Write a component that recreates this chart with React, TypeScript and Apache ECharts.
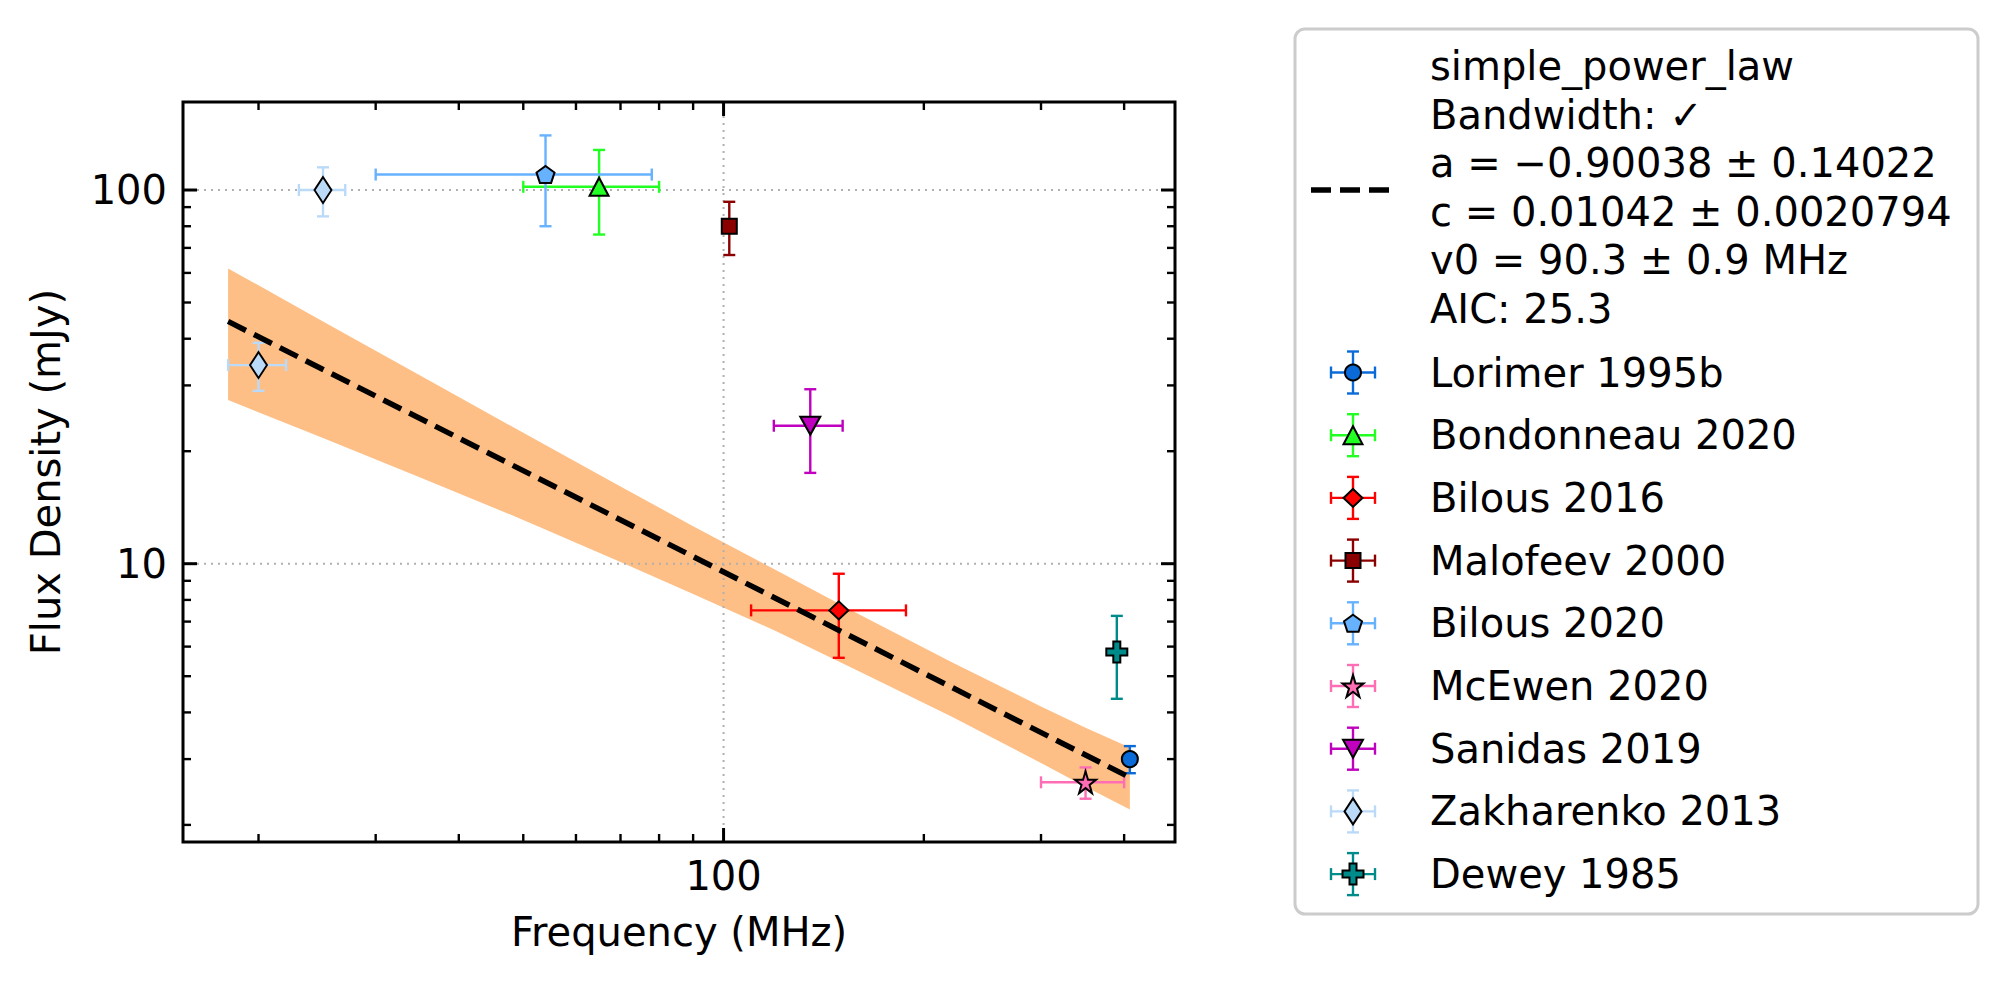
import React, { useEffect, useRef } from "react";
import * as echarts from "echarts";

const FONT = "DejaVu Sans";

// ---- axes ----
const xAxisMin = 15.4;
const xAxisMax = 477;
const yAxisMin = 1.8;
const yAxisMax = 172;
const xMajorTicks = [100];
const xMinorTicks = [20, 30, 40, 50, 60, 70, 80, 90, 200, 300, 400];
const yMajorTicks = [10, 100];
const yMinorTicks = [2, 3, 4, 5, 6, 7, 8, 9, 20, 30, 40, 50, 60, 70, 80, 90];
const xTickLabels = ["100"];
const yTickLabels = ["10", "100"];

// ---- fit (simple power law) ----
const fitFreq = [18, 408];
const fitFlux = [44.5, 2.68];
const bandFreq = [18, 25, 35, 50, 70, 90, 120, 160, 220, 300, 350, 408];
const bandUpper = [61.7, 44.5, 31.9, 22.4, 16.1, 12.6, 9.6, 7.31, 5.46, 4.15, 3.64, 3.22];
const bandLower = [27.4, 21.7, 17.0, 13.1, 10.1, 8.3, 6.6, 5.15, 3.9, 2.93, 2.53, 2.2];
const fitLegendLines = [
  "simple_power_law",
  "Bandwidth: \u2713",
  "a = \u22120.90038 \u00b1 0.14022",
  "c = 0.01042 \u00b1 0.0020794",
  "v0 = 90.3 \u00b1 0.9 MHz",
  "AIC: 25.3",
];

// ---- measurements: [frequency (MHz), flux (mJy), freq error, flux error] ----
const lorimer1995b = [[408, 3.0, 0, 0.25]];
const bondonneau2020 = [[65, 102, 15, 26]];
const bilous2016 = [[149, 7.5, 39, 1.9]];
const malofeev2000 = [[102, 80, 0, 13]];
const bilous2020 = [[54, 110, 24, 30]];
const mcewen2020 = [[350, 2.6, 50, 0.25]];
const sanidas2019 = [[135, 23.4, 16, 5.9]];
const zakharenko2013 = [[20, 34, 2, 5], [25, 100, 2, 15]];
const dewey1985 = [[390, 5.8, 0, 1.45]];

const seriesNames = [
  "Lorimer 1995b",
  "Bondonneau 2020",
  "Bilous 2016",
  "Malofeev 2000",
  "Bilous 2020",
  "McEwen 2020",
  "Sanidas 2019",
  "Zakharenko 2013",
  "Dewey 1985",
];
const seriesData = [
  lorimer1995b,
  bondonneau2020,
  bilous2016,
  malofeev2000,
  bilous2020,
  mcewen2020,
  sanidas2019,
  zakharenko2013,
  dewey1985,
];

// ---- styling ----
const MARKERS: Record<string, number[][]> = {
  triangleUp: [[0, -1], [1, 1], [-1, 1]],
  triangleDown: [[0, 1], [1, -1], [-1, -1]],
  diamond: [[0, -1], [1, 0], [0, 1], [-1, 0]],
  square: [[-1, -1], [1, -1], [1, 1], [-1, 1]],
  pentagon: [[0, -1], [0.951, -0.309], [0.588, 0.809], [-0.588, 0.809], [-0.951, -0.309]],
  star: [
    [0, -1], [0.2245, -0.309], [0.951, -0.309], [0.3633, 0.118], [0.588, 0.809],
    [0, 0.382], [-0.588, 0.809], [-0.3633, 0.118], [-0.951, -0.309], [-0.2245, -0.309],
  ],
  plus: [
    [1, 0], [2, 0], [2, 1], [3, 1], [3, 2], [2, 2], [2, 3], [1, 3], [1, 2], [0, 2], [0, 1], [1, 1],
  ],
};

const seriesStyles = [
  { color: "#0a6ad8", marker: "circle", size: [16, 16] },
  { color: "#22ff22", marker: "triangleUp", size: [19, 18] },
  { color: "#ff0000", marker: "diamond", size: [19, 18] },
  { color: "#8b0000", marker: "square", size: [15, 15] },
  { color: "#66b2ff", marker: "pentagon", size: [18, 17] },
  { color: "#ff6eb4", marker: "star", size: [21, 22] },
  { color: "#bf00bf", marker: "triangleDown", size: [20, 18] },
  { color: "#bbdaf8", marker: "diamond", size: [17, 26] },
  { color: "#008b8b", marker: "plus", size: [21, 21] },
];

const ERR_LW = 2.4;
const CAP = 6;

function bbox(pts: number[][]) {
  let x0 = Infinity, x1 = -Infinity, y0 = Infinity, y1 = -Infinity;
  pts.forEach(([x, y]) => {
    x0 = Math.min(x0, x); x1 = Math.max(x1, x);
    y0 = Math.min(y0, y); y1 = Math.max(y1, y);
  });
  return { x0, x1, y0, y1 };
}

function symbolFor(marker: string) {
  if (marker === "circle") return "circle";
  const pts = MARKERS[marker];
  return "path://" + pts.map((p, i) => (i ? "L" : "M") + p[0] + "," + p[1]).join("") + "Z";
}

function markerGraphic(st: any, cx: number, cy: number) {
  const [w, h] = st.size;
  const style = { fill: st.color, stroke: "#000", lineWidth: 2 };
  if (st.marker === "circle") {
    return { type: "circle", shape: { cx, cy, r: w / 2 }, style, z: 103 };
  }
  const pts = MARKERS[st.marker];
  const b = bbox(pts);
  const mx = (b.x0 + b.x1) / 2, my = (b.y0 + b.y1) / 2;
  const points = pts.map(([x, y]) => [
    cx + ((x - mx) / (b.x1 - b.x0)) * w,
    cy + ((y - my) / (b.y1 - b.y0)) * h,
  ]);
  return { type: "polygon", shape: { points }, style, z: 103 };
}

function errorBarSeries(rows: number[][], color: string, name: string) {
  return {
    type: "custom",
    name: name + " err",
    z: 3,
    silent: true,
    clip: false,
    data: rows,
    encode: { x: 0, y: 1 },
    renderItem: (params: any, api: any) => {
      const f = api.value(0), s = api.value(1), fe = api.value(2), se = api.value(3);
      const st = { stroke: color, lineWidth: ERR_LW };
      const children: any[] = [];
      const ln = (x1: number, y1: number, x2: number, y2: number) =>
        children.push({ type: "line", shape: { x1, y1, x2, y2 }, style: st });
      if (fe > 0) {
        const a = api.coord([f - fe, s]);
        const b = api.coord([f + fe, s]);
        ln(a[0], a[1], b[0], b[1]);
        ln(a[0], a[1] - CAP, a[0], a[1] + CAP);
        ln(b[0], b[1] - CAP, b[0], b[1] + CAP);
      }
      if (se > 0) {
        const a = api.coord([f, s + se]);
        const b = api.coord([f, s - se]);
        ln(a[0], a[1], b[0], b[1]);
        ln(a[0] - CAP, a[1], a[0] + CAP, a[1]);
        ln(b[0] - CAP, b[1], b[0] + CAP, b[1]);
      }
      return { type: "group", children };
    },
  };
}

function labelFormatter(labels: string[]) {
  return (v: number) => {
    const hit = labels.find((l) => Math.abs(Number(l) - v) < 1e-6 * Number(l));
    return hit ? hit : "";
  };
}

function buildOption() {
  const series: any[] = [];

  // uncertainty band
  series.push({
    type: "custom",
    name: "band",
    z: 1,
    silent: true,
    clip: false,
    data: [[bandFreq[0], bandUpper[0]]],
    encode: { x: 0, y: 1 },
    renderItem: (params: any, api: any) => {
      const pts: number[][] = [];
      bandFreq.forEach((f, i) => pts.push(api.coord([f, bandUpper[i]])));
      for (let i = bandFreq.length - 1; i >= 0; i--) pts.push(api.coord([bandFreq[i], bandLower[i]]));
      return { type: "polygon", shape: { points: pts }, style: { fill: "#febf86", stroke: null } };
    },
  });

  // grid lines (major ticks)
  series.push({
    type: "custom",
    name: "gridlines",
    z: 2,
    silent: true,
    clip: false,
    data: [[100, 10]],
    encode: { x: 0, y: 1 },
    renderItem: (params: any, api: any) => {
      const cs = params.coordSys;
      const st = { stroke: "#b0b0b0", lineWidth: 2, lineDash: [2, 5] };
      const children: any[] = [];
      xMajorTicks.forEach((t) => {
        const px = api.coord([t, 10])[0];
        children.push({ type: "line", shape: { x1: px, y1: cs.y, x2: px, y2: cs.y + cs.height }, style: st });
      });
      yMajorTicks.forEach((t) => {
        const py = api.coord([100, t])[1];
        children.push({ type: "line", shape: { x1: cs.x, y1: py, x2: cs.x + cs.width, y2: py }, style: st });
      });
      return { type: "group", children };
    },
  });

  // error bars
  seriesData.forEach((rows, i) => series.push(errorBarSeries(rows, seriesStyles[i].color, seriesNames[i])));

  // fit line
  series.push({
    type: "line",
    name: "simple_power_law",
    z: 4,
    silent: true,
    showSymbol: false,
    symbol: "none",
    data: fitFreq.map((f, i) => [f, fitFlux[i]]),
    lineStyle: { color: "#000", width: 5.5, type: [20, 9] },
  });

  // markers
  seriesData.forEach((rows, i) => {
    const st = seriesStyles[i];
    series.push({
      type: "scatter",
      name: seriesNames[i],
      z: 5,
      silent: true,
      data: rows.map((r) => [r[0], r[1]]),
      symbol: symbolFor(st.marker),
      symbolSize: st.size,
      itemStyle: { color: st.color, borderColor: "#000", borderWidth: 2, opacity: 1 },
    });
  });

  // frame + ticks
  series.push({
    type: "custom",
    name: "frame",
    z: 10,
    silent: true,
    clip: false,
    data: [[100, 10]],
    encode: { x: 0, y: 1 },
    renderItem: (params: any, api: any) => {
      const cs = params.coordSys;
      const left = cs.x, right = cs.x + cs.width, top = cs.y, bottom = cs.y + cs.height;
      const children: any[] = [];
      const tk = (x1: number, y1: number, x2: number, y2: number, w: number) =>
        children.push({ type: "line", shape: { x1, y1, x2, y2 }, style: { stroke: "#000", lineWidth: w } });
      const xt = (t: number, len: number, w: number) => {
        const px = api.coord([t, 10])[0];
        tk(px, bottom, px, bottom - len, w);
        tk(px, top, px, top + len, w);
      };
      const yt = (t: number, len: number, w: number) => {
        const py = api.coord([100, t])[1];
        tk(left, py, left + len, py, w);
        tk(right, py, right - len, py, w);
      };
      xMajorTicks.forEach((t) => xt(t, 14, 3));
      xMinorTicks.forEach((t) => xt(t, 8, 2.4));
      yMajorTicks.forEach((t) => yt(t, 14, 3));
      yMinorTicks.forEach((t) => yt(t, 8, 2.4));
      children.push({
        type: "rect",
        shape: { x: left, y: top, width: cs.width, height: cs.height },
        style: { fill: "none", stroke: "#000", lineWidth: 3 },
      });
      return { type: "group", children };
    },
  });

  // ---- legend (graphic) ----
  const g: any[] = [];
  g.push({
    type: "rect",
    shape: { x: 1295, y: 29, width: 683, height: 885, r: 10 },
    style: { fill: "rgba(255,255,255,0.8)", stroke: "#cccccc", lineWidth: 3 },
    z: 100,
  });
  g.push({
    type: "line",
    shape: { x1: 1311, y1: 190, x2: 1393, y2: 190 },
    style: { stroke: "#000", lineWidth: 5.5, lineDash: [20, 9] },
    z: 101,
  });
  fitLegendLines.forEach((t, i) => {
    g.push({
      type: "text",
      x: 1430,
      y: 66 + 48.5 * i,
      style: { text: t, fontSize: 40, fontFamily: FONT, fill: "#000", verticalAlign: "middle", align: "left" },
      z: 101,
    });
  });
  seriesNames.forEach((name, i) => {
    const cy = 372.5 + 62.7 * i;
    const cx = 1353;
    const st = seriesStyles[i];
    const ls = { stroke: st.color, lineWidth: ERR_LW };
    const L = (x1: number, y1: number, x2: number, y2: number) =>
      g.push({ type: "line", shape: { x1, y1, x2, y2 }, style: ls, z: 102 });
    L(cx - 22, cy, cx + 22, cy);
    L(cx - 22, cy - CAP, cx - 22, cy + CAP);
    L(cx + 22, cy - CAP, cx + 22, cy + CAP);
    L(cx, cy - 21, cx, cy + 21);
    L(cx - CAP, cy - 21, cx + CAP, cy - 21);
    L(cx - CAP, cy + 21, cx + CAP, cy + 21);
    g.push(markerGraphic(st, cx, cy));
    g.push({
      type: "text",
      x: 1430,
      y: cy,
      style: { text: name, fontSize: 40, fontFamily: FONT, fill: "#000", verticalAlign: "middle", align: "left" },
      z: 101,
    });
  });

  return {
    animation: false,
    backgroundColor: "#ffffff",
    textStyle: { fontFamily: FONT },
    grid: { left: 183, top: 102, width: 992, height: 740, containLabel: false, outerBoundsMode: "none" },
    xAxis: {
      type: "log",
      logBase: 10,
      min: xAxisMin,
      max: xAxisMax,
      axisLine: { show: false },
      axisTick: { show: false },
      splitLine: { show: false },
      minorTick: { show: false },
      axisLabel: {
        formatter: labelFormatter(xTickLabels),
        fontSize: 40,
        fontFamily: FONT,
        color: "#000",
        margin: 14,
        showMinLabel: false,
        showMaxLabel: false,
      },
      name: "Frequency (MHz)",
      nameLocation: "middle",
      nameGap: 70,
      nameTextStyle: { fontSize: 40, fontFamily: FONT, color: "#000" },
    },
    yAxis: {
      type: "log",
      logBase: 10,
      min: yAxisMin,
      max: yAxisMax,
      axisLine: { show: false },
      axisTick: { show: false },
      splitLine: { show: false },
      minorTick: { show: false },
      axisLabel: {
        formatter: labelFormatter(yTickLabels),
        fontSize: 40,
        fontFamily: FONT,
        color: "#000",
        margin: 16,
        showMinLabel: false,
        showMaxLabel: false,
      },
      name: "Flux Density (mJy)",
      nameLocation: "middle",
      nameGap: 117,
      nameTextStyle: { fontSize: 40, fontFamily: FONT, color: "#000" },
    },
    graphic: { elements: g },
    series,
  };
}

export default function App() {
  const ref = useRef<HTMLDivElement>(null);
  useEffect(() => {
    if (!ref.current) return;
    const chart = echarts.init(ref.current, undefined, { renderer: "svg" });
    chart.setOption(buildOption() as any);
    return () => chart.dispose();
  }, []);
  return (
    <div
      ref={ref}
      style={{ position: "absolute", left: 0, top: 0, width: 2007, height: 987, background: "#fff" }}
    />
  );
}
